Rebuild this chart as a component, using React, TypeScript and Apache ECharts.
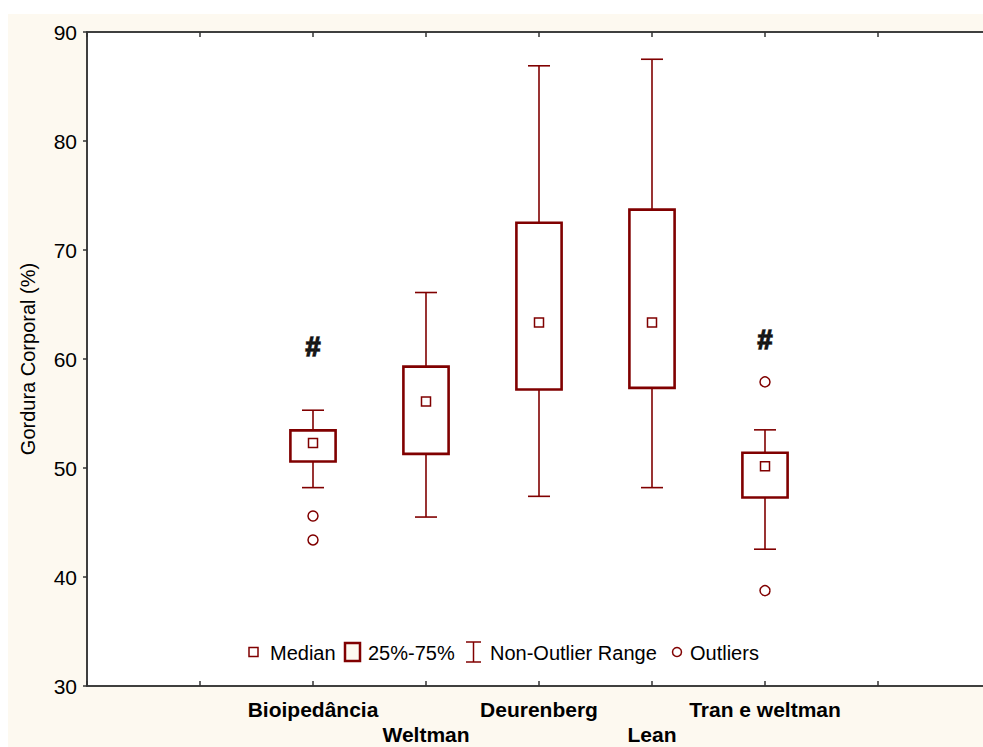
import React, { useEffect, useRef } from "react";
import * as echarts from "echarts";

// ---- data ----
const categories = ["Bioipedância", "Weltman", "Deurenberg", "Lean", "Tran e weltman"];
const categoryPositions = [2, 3, 4, 5, 6];
const whiskerLow = [48.2, 45.5, 47.4, 48.2, 42.55];
const quartile1 = [50.6, 51.3, 57.2, 57.35, 47.3];
const medians = [52.3, 56.1, 63.35, 63.35, 50.15];
const quartile3 = [53.45, 59.3, 72.5, 73.7, 51.4];
const whiskerHigh = [55.3, 66.1, 86.9, 87.5, 53.5];
const outlierCategory = [0, 0, 4, 4];
const outlierValues = [45.6, 43.4, 57.9, 38.75];
const hashCategory = [0, 4];
const hashValues = [61.1, 61.75];
const yTicks = { min: 30, max: 90, interval: 10 };
const legendLabels = ["Median", "25%-75%", "Non-Outlier Range", "Outliers"];

const RED = "#800000";
const BG = "#fdf9f0";
const FONT = "Arial, 'Liberation Sans', sans-serif";

export default function App() {
  const ref = useRef<HTMLDivElement>(null);

  useEffect(() => {
    if (!ref.current) return;
    const chart = echarts.init(ref.current, null, { renderer: "svg" });

    const boxData = categoryPositions.map((x, i) => [
      x,
      whiskerLow[i],
      quartile1[i],
      medians[i],
      quartile3[i],
      whiskerHigh[i],
    ]);
    const outlierData = outlierValues.map((v, i) => [categoryPositions[outlierCategory[i]], v]);
    const hashData = hashValues.map((v, i) => [categoryPositions[hashCategory[i]], v]);

    const labelFor = (v: number) => {
      const idx = categoryPositions.indexOf(Math.round(v));
      if (idx < 0) return "";
      return idx % 2 === 1 ? "\n" + categories[idx] : categories[idx];
    };

    // legend positions (in chart coordinates; container offset 8,14)
    const ly = 652 - 14;
    const legendGraphic: any[] = [
      {
        type: "rect",
        shape: { x: 249 - 8, y: ly - 4.5, width: 9, height: 9 },
        style: { fill: "#fff", stroke: RED, lineWidth: 1.5 },
      },
      {
        type: "text",
        x: 270 - 8,
        y: ly + 1,
        style: { text: legendLabels[0], font: `20px ${FONT}`, fill: "#000", verticalAlign: "middle" },
      },
      {
        type: "rect",
        shape: { x: 345 - 8, y: ly - 9, width: 15, height: 18 },
        style: { fill: BG, stroke: RED, lineWidth: 2.5 },
      },
      {
        type: "text",
        x: 368 - 8,
        y: ly + 1,
        style: { text: legendLabels[1], font: `20px ${FONT}`, fill: "#000", verticalAlign: "middle" },
      },
      {
        type: "line",
        shape: { x1: 466 - 8, y1: ly - 10, x2: 481 - 8, y2: ly - 10 },
        style: { stroke: RED, lineWidth: 1.5 },
      },
      {
        type: "line",
        shape: { x1: 473.5 - 8, y1: ly - 10, x2: 473.5 - 8, y2: ly + 10 },
        style: { stroke: RED, lineWidth: 1.5 },
      },
      {
        type: "line",
        shape: { x1: 466 - 8, y1: ly + 10, x2: 481 - 8, y2: ly + 10 },
        style: { stroke: RED, lineWidth: 1.5 },
      },
      {
        type: "text",
        x: 490 - 8,
        y: ly + 1,
        style: { text: legendLabels[2], font: `20px ${FONT}`, fill: "#000", verticalAlign: "middle" },
      },
      {
        type: "circle",
        shape: { cx: 677 - 8, cy: ly, r: 4.5 },
        style: { fill: "#fff", stroke: RED, lineWidth: 1.5 },
      },
      {
        type: "text",
        x: 690 - 8,
        y: ly + 1,
        style: { text: legendLabels[3], font: `20px ${FONT}`, fill: "#000", verticalAlign: "middle" },
      },
    ];

    chart.setOption({
      animation: false,
      backgroundColor: BG,
      grid: {
        left: 79,
        top: 18,
        width: 904,
        height: 656,
        show: true,
        backgroundColor: "#ffffff",
        borderColor: "#333",
        borderWidth: 1.5,
      },
      xAxis: [
        {
          type: "value",
          min: 0,
          max: 8,
          interval: 1,
          position: "bottom",
          splitLine: { show: false },
          axisLine: { show: true, lineStyle: { color: "#333", width: 1.5 } },
          axisTick: { show: true, inside: true, length: 5, lineStyle: { color: "#333", width: 1.5 } },
          axisLabel: {
            show: true,
            margin: 11,
            formatter: labelFor,
            fontFamily: FONT,
            fontSize: 21,
            fontWeight: "bold",
            color: "#000",
            lineHeight: 25,
            verticalAlign: "top",
            showMinLabel: true,
            showMaxLabel: true,
          },
        },
        {
          type: "value",
          min: 0,
          max: 8,
          interval: 1,
          position: "top",
          splitLine: { show: false },
          axisLine: { show: true, lineStyle: { color: "#333", width: 1.5 } },
          axisTick: { show: true, inside: true, length: 5, lineStyle: { color: "#333", width: 1.5 } },
          axisLabel: { show: false },
        },
      ],
      yAxis: {
        type: "value",
        min: yTicks.min,
        max: yTicks.max,
        interval: yTicks.interval,
        name: "Gordura Corporal (%)",
        nameLocation: "middle",
        nameGap: 49,
        nameRotate: 90,
        nameTextStyle: { fontFamily: FONT, fontSize: 20, color: "#000" },
        splitLine: { show: false },
        axisLine: { show: true, lineStyle: { color: "#333", width: 1.5 } },
        axisTick: { show: true, inside: false, length: 4, lineStyle: { color: "#333", width: 1.5 } },
        axisLabel: { margin: 10, fontFamily: FONT, fontSize: 21, color: "#000" },
      },
      graphic: legendGraphic,
      series: [
        {
          type: "custom",
          name: "boxes",
          data: boxData,
          encode: { x: 0, y: [1, 2, 3, 4, 5] },
          renderItem: (params: any, api: any) => {
            const x = api.value(0);
            const pLow = api.coord([x, api.value(1)]);
            const pQ1 = api.coord([x, api.value(2)]);
            const pMed = api.coord([x, api.value(3)]);
            const pQ3 = api.coord([x, api.value(4)]);
            const pHigh = api.coord([x, api.value(5)]);
            const unit = api.size([1, 0])[0];
            const bw = unit * 0.4;
            const cw = unit * 0.195;
            const cx = pMed[0];
            const ws = { stroke: RED, lineWidth: 1.6 };
            const ms = 9;
            return {
              type: "group",
              children: [
                { type: "line", shape: { x1: cx, y1: pHigh[1], x2: cx, y2: pQ3[1] }, style: ws },
                { type: "line", shape: { x1: cx, y1: pQ1[1], x2: cx, y2: pLow[1] }, style: ws },
                { type: "line", shape: { x1: cx - cw / 2, y1: pHigh[1], x2: cx + cw / 2, y2: pHigh[1] }, style: ws },
                { type: "line", shape: { x1: cx - cw / 2, y1: pLow[1], x2: cx + cw / 2, y2: pLow[1] }, style: ws },
                {
                  type: "rect",
                  shape: { x: cx - bw / 2, y: pQ3[1], width: bw, height: pQ1[1] - pQ3[1] },
                  style: { fill: "#fff", stroke: RED, lineWidth: 2.6 },
                },
                {
                  type: "rect",
                  shape: { x: cx - ms / 2, y: pMed[1] - ms / 2, width: ms, height: ms },
                  style: { fill: "#fff", stroke: RED, lineWidth: 1.5 },
                },
              ],
            };
          },
        },
        {
          type: "scatter",
          name: "Outliers",
          data: outlierData,
          symbol: "circle",
          symbolSize: 10,
          itemStyle: { color: "#fff", borderColor: RED, borderWidth: 1.5, opacity: 1 },
        },
        {
          type: "scatter",
          name: "hash",
          data: hashData,
          symbolSize: 0,
          label: {
            show: true,
            position: "inside",
            formatter: "#",
            fontFamily: FONT,
            fontSize: 27,
            fontWeight: "bold",
            color: "#000",
            textBorderColor: "#000",
            textBorderWidth: 1.6,
          },
        },
      ],
    });

    return () => chart.dispose();
  }, []);

  return (
    <div
      style={{
        position: "absolute",
        left: 8,
        top: 14,
        width: 975,
        height: 733,
        overflow: "hidden",
        background: BG,
      }}
    >
      <div ref={ref} style={{ width: 990, height: 733 }} />
    </div>
  );
}
